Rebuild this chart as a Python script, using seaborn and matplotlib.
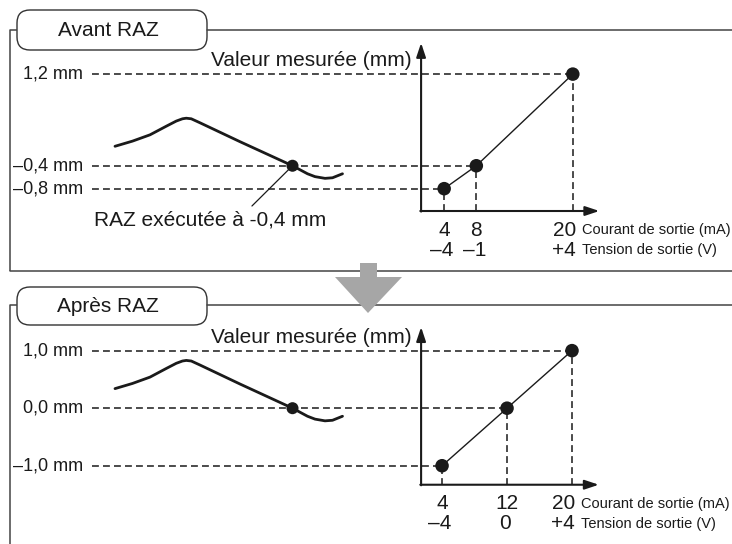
import matplotlib
matplotlib.use("Agg")
import matplotlib.pyplot as plt
from matplotlib.patches import FancyBboxPatch, Polygon
import seaborn as sns

sns.set_theme(style="white")
plt.rcParams['font.family'] = ['Liberation Sans', 'DejaVu Sans']

# ---- data ----
titres = ["Avant RAZ", "Après RAZ"]

courant_avant_ma = [4, 8, 20]
mesure_avant_mm = [-0.8, -0.4, 1.2]
tension_avant_lbl = ["\u20134", "\u20131", "+4"]
y_avant_lbl = ["\u20130,8 mm", "\u20130,4 mm", "1,2 mm"]

courant_apres_ma = [4, 12, 20]
mesure_apres_mm = [-1.0, 0.0, 1.0]
tension_apres_lbl = ["\u20134", "0", "+4"]
y_apres_lbl = ["\u20131,0 mm", "0,0 mm", "1,0 mm"]

# measured waveform (arbitrary time units)
temps = [0.0, 0.7, 1.4, 2.05, 2.45, 2.7, 2.85, 3.05, 3.4, 5.0, 6.6, 7.1,
         7.4, 7.7, 8.0, 8.4, 8.7, 9.1]
onde_avant_mm = [-0.06, 0.03, 0.14, 0.29, 0.38, 0.42, 0.43, 0.42, 0.35,
                 0.02, -0.30, -0.40, -0.47, -0.54, -0.59, -0.62, -0.61, -0.54]
onde_apres_mm = [0.34, 0.43, 0.54, 0.69, 0.78, 0.82, 0.83, 0.82, 0.75,
                 0.42, 0.10, 0.00, -0.07, -0.14, -0.19, -0.22, -0.21, -0.14]
t_raz = 7.1
raz_avant_mm = -0.4
raz_apres_mm = 0.0

# ---- layout (pixels) ----
W, H = 732, 544
fig = plt.figure(figsize=(W / 100, H / 100), dpi=100)

def px_axes(x0, y0, x1, y1, **kw):
    return fig.add_axes([x0 / W, 1 - y1 / H, (x1 - x0) / W, (y1 - y0) / H], **kw)

ink = "#1a1a1a"
dash = (0, (4.5, 2.7))
fleche = dict(arrowstyle="-|>,head_length=0.6,head_width=0.2", color=ink,
              lw=1.5, mutation_scale=14, shrinkA=0, shrinkB=0)

deco = px_axes(0, 0, W, H)
deco.set_xlim(0, W)
deco.set_ylim(H, 0)
deco.axis("off")

panels = [
    dict(titre=titres[0], x=courant_avant_ma, y=mesure_avant_mm, tens=tension_avant_lbl,
         ylbl=y_avant_lbl, onde=onde_avant_mm, raz=raz_avant_mm,
         rect=(92, 30, 732, 270), xlim=(-39.8, 39.8), ylim=(-2.22, 1.97),
         x0=1.13, y0=-1.19, xtip=23.3, ytip=1.745, yval=1.43,
         tab=(17, 10, 207, 50), top=30, bottom=271),
    dict(titre=titres[1], x=courant_apres_ma, y=mesure_apres_mm, tens=tension_apres_lbl,
         ylbl=y_apres_lbl, onde=onde_apres_mm, raz=raz_apres_mm,
         rect=(92, 300, 732, 544), xlim=(-39.1, 39.7), ylim=(-2.36, 1.88),
         x0=1.42, y0=-1.33, xtip=23.3, ytip=1.41, yval=1.22,
         tab=(17, 287, 207, 325), top=305, bottom=None),
]

for i, p in enumerate(panels):
    # frame and tab
    tx0, ty0, tx1, ty1 = p["tab"]
    deco.plot([10, 10, tx0], [p["bottom"] if p["bottom"] else H, p["top"], p["top"]],
              color="#444444", lw=1.1, solid_capstyle="butt")
    deco.plot([tx1, W], [p["top"], p["top"]], color="#444444", lw=1.1)
    if p["bottom"]:
        deco.plot([10, W], [p["bottom"], p["bottom"]], color="#444444", lw=1.1)
    deco.add_patch(FancyBboxPatch((tx0, ty0), tx1 - tx0, ty1 - ty0,
                                  boxstyle="round,pad=0,rounding_size=13",
                                  fc="white", ec="#333333", lw=1.0))
    deco.text((tx0 + tx1) / 2 - 4, (ty0 + ty1) / 2, p["titre"], ha="center", va="center",
              fontsize=15, color=ink)

    ax = px_axes(*p["rect"])
    ax.set_xlim(*p["xlim"])
    ax.set_ylim(*p["ylim"])
    ax.axis("off")

    xl = p["xlim"][0]
    # dashed guides
    ax.hlines(p["y"], xl, p["x"], colors=ink, lw=1.1, linestyles=dash)
    ax.vlines(p["x"], p["y0"], p["y"], colors=ink, lw=1.1, linestyles=dash)

    # chart axes with arrows
    ax.annotate("", xy=(p["xtip"], p["y0"]), xytext=(p["x0"] - 0.1, p["y0"]),
                arrowprops=fleche)
    ax.annotate("", xy=(p["x0"], p["ytip"]), xytext=(p["x0"], p["y0"] - 0.01),
                arrowprops=fleche)

    sns.lineplot(x=p["x"], y=p["y"], ax=ax, color=ink, lw=1.0)
    sns.scatterplot(x=p["x"], y=p["y"], ax=ax, color=ink, s=95, edgecolor="none", zorder=5)

    ax.text(p["x0"] - 1.2, p["yval"], "Valeur mesurée (mm)", ha="right", va="center",
            fontsize=15, color=ink)

    # y labels
    for yv, lab in zip(p["y"], p["ylbl"]):
        ax.annotate(lab, xy=(0, yv), xycoords=("axes fraction", "data"),
                    xytext=(-9, 0), textcoords="offset pixels", ha="right", va="center",
                    fontsize=13, color=ink)

    # x labels (current / voltage)
    n = len(p["x"])
    for k, (xv, tl) in enumerate(zip(p["x"], p["tens"])):
        last = k == n - 1
        ha = "right" if last else "center"
        dx = 3 if last else 0
        ax.annotate(str(xv), xy=(xv, p["y0"]), xytext=(dx, -19), textcoords="offset pixels",
                    ha=ha, va="center", fontsize=15, color=ink)
        ax.annotate(tl, xy=(xv, p["y0"]), xytext=(dx if last else -2, -39),
                    textcoords="offset pixels", ha=ha, va="center", fontsize=15, color=ink)
    ax.annotate("Courant de sortie (mA)", xy=(p["x"][-1], p["y0"]), xytext=(9, -19),
                textcoords="offset pixels", ha="left", va="center", fontsize=10.5, color=ink)
    ax.annotate("Tension de sortie (V)", xy=(p["x"][-1], p["y0"]), xytext=(9, -39),
                textcoords="offset pixels", ha="left", va="center", fontsize=10.5, color=ink)

    # waveform
    r = p["rect"]
    axw = px_axes(90, r[1], 370, r[3], sharey=ax)
    axw.set_xlim(-1, 10.2)
    axw.axis("off")
    axw.patch.set_alpha(0)
    sns.lineplot(x=temps, y=p["onde"], ax=axw, color=ink, lw=2.0)
    sns.scatterplot(x=[t_raz], y=[p["raz"]], ax=axw, color=ink, s=75, edgecolor="none",
                    zorder=5)
    if i == 0:
        axw.annotate("RAZ exécutée à -0,4 mm", xy=(t_raz, p["raz"]), xytext=(-82, -54),
                     textcoords="offset pixels", ha="center", va="center", fontsize=15,
                     color=ink,
                     arrowprops=dict(arrowstyle="-", color=ink, lw=0.9, relpos=(0.66, 1.0),
                                     shrinkA=1, shrinkB=0))

# grey arrow between the two panels
top_ax = px_axes(0, 0, W, H)
top_ax.set_xlim(0, W)
top_ax.set_ylim(H, 0)
top_ax.axis("off")
top_ax.add_patch(Polygon([(360, 263), (377, 263), (377, 277), (402, 277), (368, 313),
                          (335, 277), (360, 277)], closed=True, fc="#a6a6a6", ec="none"))

fig.savefig("out.png", dpi=100)
